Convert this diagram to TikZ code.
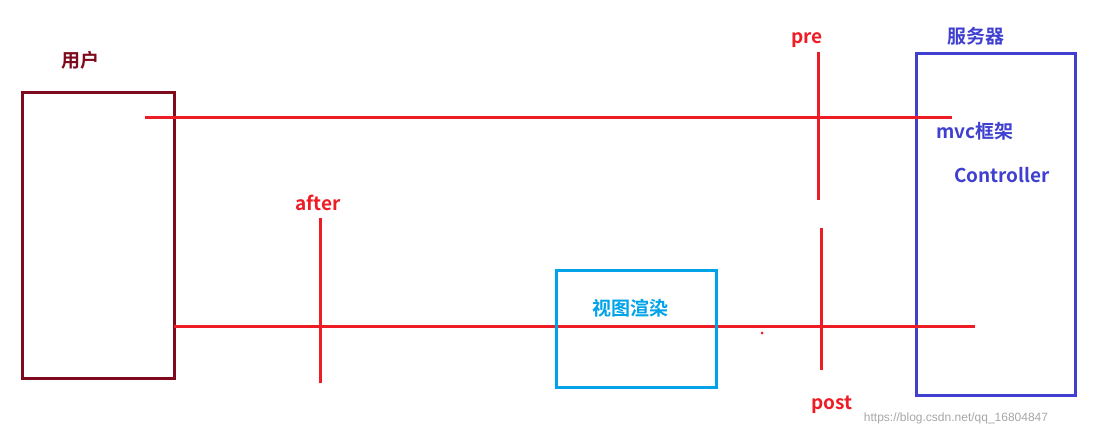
\documentclass[tikz,border=0pt]{standalone}
\usepackage{fontspec}
\newfontfamily\cjk{Noto Sans CJK SC}[BoldFont={Noto Sans CJK SC Bold}]
\definecolor{ured}{HTML}{7F0A1E}
\definecolor{sblue}{HTML}{3F3FD0}
\definecolor{lred}{HTML}{EE1C25}
\definecolor{cyanb}{HTML}{00A2E8}
\begin{document}
\begin{tikzpicture}[x=1pt,y=-1pt,
  lbl/.style={font=\cjk\bfseries\fontsize{19}{22}\selectfont,inner sep=0pt},
  rl/.style={draw=lred,line width=3pt}]
\useasboundingbox (0,0) rectangle (1103,438);
\draw[ured,line width=3pt] (22,93) rectangle (174,378);
\node[lbl,text=ured] (u) at (80,60) {用户};
\draw[sblue,line width=3pt] (916,54) rectangle (1075,395);
\node[lbl,text=sblue] (s) at (976,36) {服务器};
\node[lbl,text=sblue] (m) at (975,131) {mvc框架};
\node[lbl,text=sblue] (c) at (1002,175) {Controller};
\coordinate (t1) at (145,118); \coordinate (t2) at (952,118);
\coordinate (b1) at (174,327); \coordinate (b2) at (975,327);
\draw[rl] (t1) -- (t2);
\draw[rl] (b1) -- (b2);
\draw[rl] (360,327) -- (380,327);
\coordinate (a1) at (320,218); \coordinate (a2) at (320,383);
\draw[rl] (a1) -- (a2);
\node[lbl,text=lred] (af) at (318,203) {after};
\coordinate (p1) at (818,52); \coordinate (p2) at (818,200);
\draw[rl] (p1) -- (p2);
\coordinate (q1) at (821,228); \coordinate (q2) at (821,370);
\draw[rl] (q1) -- (q2);
\node[lbl,text=lred] (pr) at (807,40) {pre};
\node[lbl,text=lred] (po) at (832,405) {post};
\draw[cyanb,line width=3pt] (556,271) rectangle (716,387);
\node[lbl,text=cyanb] (v) at (630,308) {视图渲染};
\fill[lred] (762,333) circle (1.5);
\node[font=\fontspec{Liberation Sans}\fontsize{12}{14}\selectfont,text=gray!70,inner sep=0pt] (w) at (956,418) {https://blog.csdn.net/qq\_16804847};
\end{tikzpicture}
\end{document}
